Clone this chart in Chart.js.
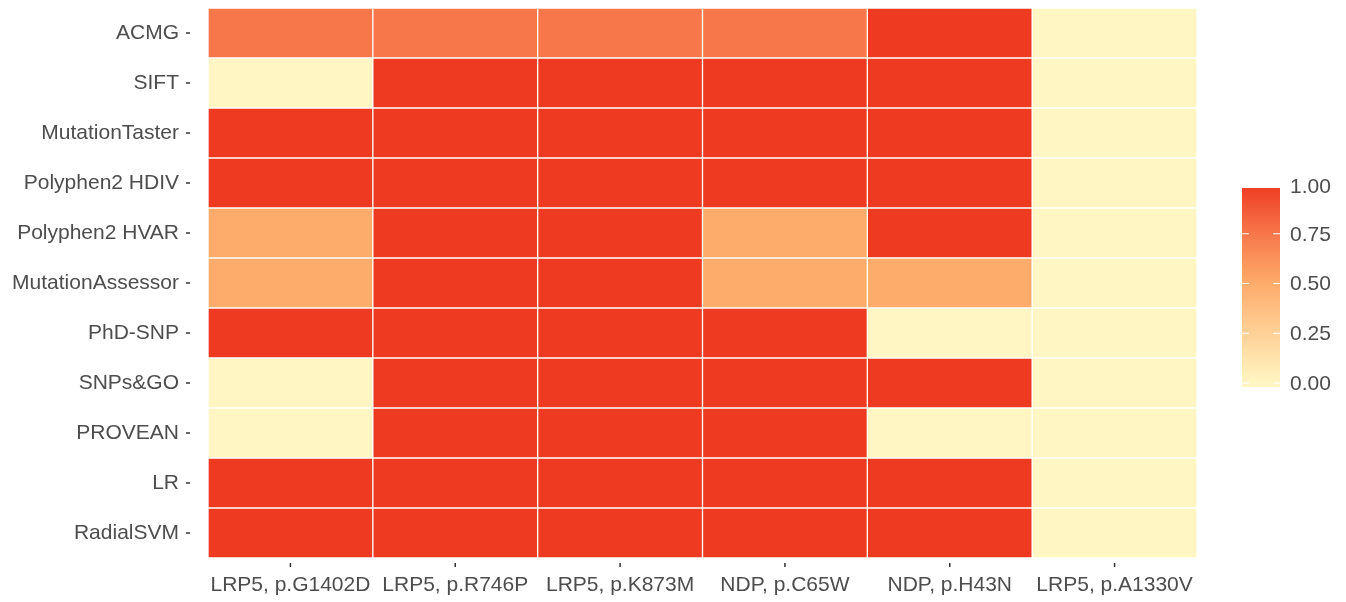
<!DOCTYPE html>
<html>
<head>
<meta charset="utf-8">
<script src="https://cdn.jsdelivr.net/npm/chart.js@4.4.1/dist/chart.umd.min.js"></script>
<style>
  body { margin: 0; background: #fff; }
  canvas { display: block; }
</style>
</head>
<body>
<canvas id="heat" width="1346" height="602"></canvas>
<script>
const variants = ['LRP5, p.G1402D', 'LRP5, p.R746P', 'LRP5, p.K873M', 'NDP, p.C65W', 'NDP, p.H43N', 'LRP5, p.A1330V'];
const tools = ['ACMG', 'SIFT', 'MutationTaster', 'Polyphen2 HDIV', 'Polyphen2 HVAR', 'MutationAssessor',
               'PhD-SNP', 'SNPs&GO', 'PROVEAN', 'LR', 'RadialSVM'];
// one row per tool, one value per variant
const scores = [
    [0.75, 0.75, 0.75, 0.75, 1, 0],
    [0, 1, 1, 1, 1, 0],
    [1, 1, 1, 1, 1, 0],
    [1, 1, 1, 1, 1, 0],
    [0.5, 1, 1, 0.5, 1, 0],
    [0.5, 1, 1, 0.5, 0.5, 0],
    [1, 1, 1, 1, 0, 0],
    [0, 1, 1, 1, 1, 0],
    [0, 1, 1, 1, 0, 0],
    [1, 1, 1, 1, 1, 0],
    [1, 1, 1, 1, 1, 0]
];
const legendTicks = [0, 0.25, 0.5, 0.75, 1];

// colour stops
const stops = [
    [0, [255, 246, 195]],
    [0.5, [253, 172, 107]],
    [0.75, [247, 119, 74]],
    [1, [238, 58, 33]]
];
function fillFor(v) {
    for (let i = 1; i < stops.length; i++) {
        if (v <= stops[i][0]) {
            const a = stops[i - 1], b = stops[i];
            const t = (v - a[0]) / (b[0] - a[0]);
            const c = a[1].map((x, k) => Math.round(x + (b[1][k] - x) * t));
            return 'rgb(' + c.join(',') + ')';
        }
    }
    return 'rgb(' + stops[stops.length - 1][1].join(',') + ')';
}

const textColor = '#4d4d4d';
const tickColor = '#333';
const fontFamily = '"Liberation Sans", Arial, sans-serif';

const datasets = variants.map((name, c) => ({
    label: name,
    data: tools.map(() => 1),
    backgroundColor: tools.map((t, r) => fillFor(scores[r][c])),
    borderColor: '#ffffff',
    borderWidth: 1,
    borderSkipped: false,
    barPercentage: 1,
    categoryPercentage: 1
}));

// little detached tick marks like ggplot and the colour bar legend
const extras = {
    id: 'extras',
    afterDraw(chart) {
        const ctx = chart.ctx;
        const area = chart.chartArea;
        const xs = chart.scales.x, ys = chart.scales.y;
        ctx.save();
        ctx.strokeStyle = tickColor;
        ctx.lineWidth = 1.5;
        tools.forEach((t, i) => {
            const y = ys.getPixelForTick(i);
            ctx.beginPath();
            ctx.moveTo(area.left - 22, y);
            ctx.lineTo(area.left - 18, y);
            ctx.stroke();
        });
        variants.forEach((v, i) => {
            const x = xs.getPixelForValue(i + 0.5);
            ctx.beginPath();
            ctx.moveTo(x, area.bottom + 5);
            ctx.lineTo(x, area.bottom + 9);
            ctx.stroke();
        });

        // colour bar
        const bx = 1242, bw = 38, top = 188, bottom = 387;
        const yFor = v => 383 - v * 199;
        const grad = ctx.createLinearGradient(0, yFor(0), 0, yFor(1));
        for (let s = 0; s <= 20; s++) grad.addColorStop(s / 20, fillFor(s / 20));
        ctx.fillStyle = grad;
        ctx.fillRect(bx, top, bw, bottom - top);
        ctx.strokeStyle = '#ffffff';
        ctx.lineWidth = 1.2;
        ctx.font = '21px ' + fontFamily;
        ctx.fillStyle = textColor;
        ctx.textBaseline = 'middle';
        legendTicks.forEach(v => {
            const y = yFor(v);
            if (v < 1) {
                ctx.beginPath();
                ctx.moveTo(bx, y); ctx.lineTo(bx + 7, y);
                ctx.moveTo(bx + bw - 7, y); ctx.lineTo(bx + bw, y);
                ctx.stroke();
            }
            ctx.fillText(v.toFixed(2), 1290, v === 1 ? y + 3 : y + 1);
        });
        ctx.restore();
    }
};

new Chart(document.getElementById('heat'), {
    type: 'bar',
    data: { labels: tools, datasets: datasets },
    plugins: [extras],
    options: {
        indexAxis: 'y',
        responsive: false,
        animation: false,
        layout: { padding: { top: 8, right: 149, left: 0, bottom: 0 } },
        plugins: { legend: { display: false }, tooltip: { enabled: false } },
        scales: {
            x: {
                type: 'linear',
                stacked: true,
                min: 0,
                max: 6,
                border: { display: false },
                grid: { display: false, drawTicks: false },
                afterBuildTicks: (scale) => {
                    scale.ticks = variants.map((v, i) => ({ value: i + 0.5 }));
                },
                afterFit: (scale) => {
                    scale.height = 44;
                    scale.paddingLeft = 0;
                    scale.paddingRight = 0;
                },
                ticks: {
                    autoSkip: false,
                    maxRotation: 0,
                    padding: 15,
                    color: textColor,
                    font: { family: fontFamily, size: 21 },
                    callback: (value, index) => variants[index]
                }
            },
            y: {
                stacked: true,
                border: { display: false },
                grid: { display: false, drawTicks: false },
                afterFit: (scale) => {
                    scale.width = 208;
                    scale.paddingTop = 0;
                    scale.paddingBottom = 0;
                },
                ticks: {
                    autoSkip: false,
                    padding: 29,
                    color: textColor,
                    font: { family: fontFamily, size: 21 }
                }
            }
        }
    }
});
</script>
</body>
</html>
